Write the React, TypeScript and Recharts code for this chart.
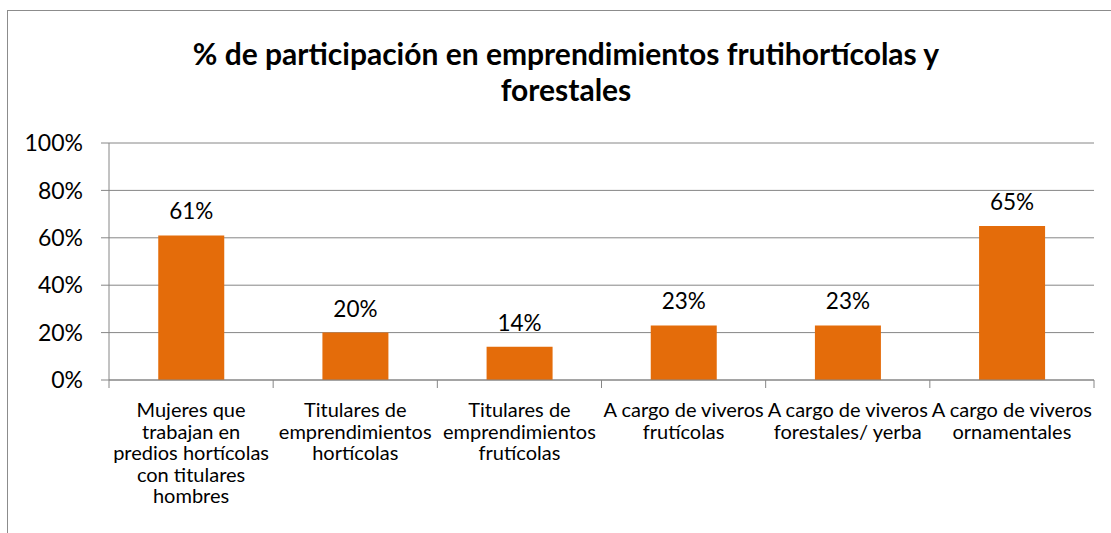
import React from "react";
import { Bar, BarChart, CartesianGrid, LabelList, XAxis, YAxis } from "recharts";

const categories = [
  "Mujeres que\ntrabajan en\npredios hortícolas\ncon titulares\nhombres",
  "Titulares de\nemprendimientos\nhortícolas",
  "Titulares de\nemprendimientos\nfrutícolas",
  "A cargo de viveros\nfrutícolas",
  "A cargo de viveros\nforestales/ yerba",
  "A cargo de viveros\nornamentales",
];
const values = [61, 20, 14, 23, 23, 65];
const yTicks = [0, 20, 40, 60, 80, 100];

const titleLines = [
  "% de participación en emprendimientos frutihortícolas y",
  "forestales",
];

const data = categories.map((name, i) => ({ name, value: values[i] }));

const FONT = "Lato, 'Noto Sans', sans-serif";
const AXIS = "#868686";
const W = 1111;
const H = 533;
const PLOT_LEFT = 109;
const PLOT_RIGHT = 1094;
const band = (PLOT_RIGHT - PLOT_LEFT) / categories.length;

function CategoryTick(props: any) {
  const { x, y, payload, index } = props;
  const lines = String(payload.value).split("\n");
  const left = x - band / 2;
  return (
    <g>
      <line x1={left} x2={left} y1={y - 8} y2={y} stroke={AXIS} />
      {index === categories.length - 1 && (
        <line x1={left + band} x2={left + band} y1={y - 8} y2={y} stroke={AXIS} />
      )}
      <text x={x} y={y + 29} textAnchor="middle" fontSize={20} fill="#000" fontFamily={FONT}>
        {lines.map((l, i) => (
          <tspan key={i} x={x} dy={i === 0 ? 0 : 21.5}>
            {l}
          </tspan>
        ))}
      </text>
    </g>
  );
}

export default function App() {
  return (
    <div style={{ position: "absolute", left: 0, top: 0, width: W, height: H, background: "#fff", overflow: "hidden" }}>
      <div
        style={{
          position: "absolute",
          left: 7,
          top: 10,
          width: W + 20,
          height: H + 20,
          border: "1.5px solid #8c8c8c",
        }}
      />
      <div
        style={{
          position: "absolute",
          left: 0,
          top: 35,
          width: 1132,
          textAlign: "center",
          fontFamily: FONT,
          fontWeight: 700,
          fontSize: 30,
          lineHeight: "36px",
          color: "#000",
        }}
      >
        {titleLines.map((t) => (
          <div key={t}>{t}</div>
        ))}
      </div>
      <div style={{ position: "absolute", left: 0, top: 0 }}>
        <BarChart
          width={W}
          height={H}
          data={data}
          margin={{ top: 143, right: W - PLOT_RIGHT, bottom: 0, left: PLOT_LEFT - 70 }}
          barCategoryGap="30%"
        >
          <CartesianGrid vertical={false} stroke={AXIS} strokeWidth={1} />
          <XAxis
            dataKey="name"
            interval={0}
            axisLine={{ stroke: AXIS }}
            tickLine={false}
            tick={<CategoryTick />}
            height={153}
          />
          <YAxis
            width={70}
            domain={[0, 100]}
            ticks={yTicks}
            tickFormatter={(v) => `${v}%`}
            axisLine={{ stroke: AXIS }}
            tickLine={{ stroke: AXIS }}
            tickSize={8}
            tickMargin={18}
            tick={{ fontSize: 23, fill: "#000", fontFamily: FONT }}
          />
          <Bar dataKey="value" fill="#E46C0A" isAnimationActive={false}>
            <LabelList
              dataKey="value"
              position="top"
              offset={16}
              formatter={(v: any) => `${v}%`}
              style={{ fontSize: 22.5, fill: "#000", fontFamily: FONT }}
            />
          </Bar>
        </BarChart>
      </div>
    </div>
  );
}
